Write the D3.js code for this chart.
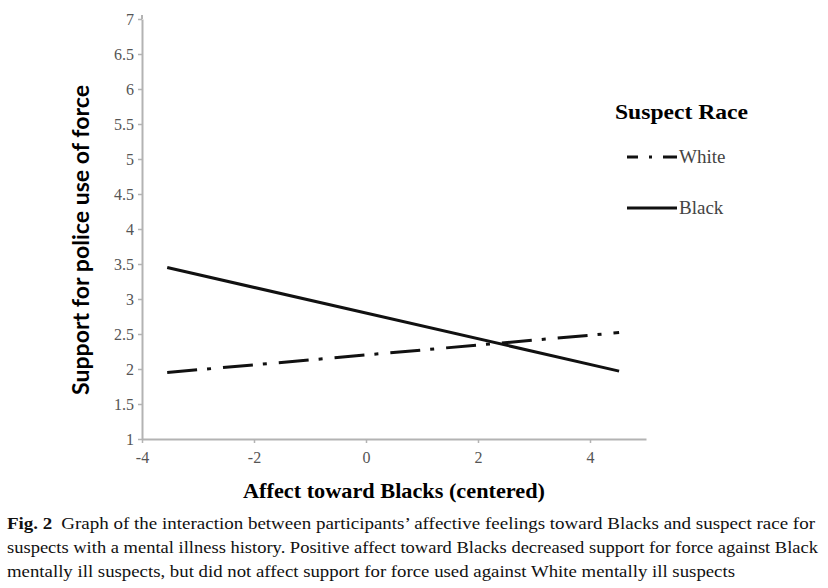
<!DOCTYPE html>
<html>
<head>
<meta charset="utf-8">
<script src="https://cdn.jsdelivr.net/npm/d3@7"></script>
<style>
  body { margin: 0; background: #fff; }
  svg { display: block; }
</style>
</head>
<body>
<div id="chart"></div>
<script>
/* DATA */
const xEnds = [-3.55, 4.52];           // affect toward Blacks (centered), -1 SD / +1 SD
const whiteValues = [1.95, 2.52];      // White suspect
const blackValues = [3.45, 1.97];      // Black suspect
const xTicks = [-4, -2, 0, 2, 4];
const yTicks = [1, 1.5, 2, 2.5, 3, 3.5, 4, 4.5, 5, 5.5, 6, 6.5, 7];
const seriesNames = ["White", "Black"];
const captionLines = [
  "Graph of the interaction between participants\u2019 affective feelings toward Blacks and suspect race for",
  "suspects with a mental illness history. Positive affect toward Blacks decreased support for force against Black",
  "mentally ill suspects, but did not affect support for force used against White mentally ill suspects"
];

/* CONSTANTS */
const width = 828, height = 588;
const margin = { top: 19, left: 142 };
const plotRight = 646, plotBottom = 439;
const serif = "'Liberation Serif', 'Times New Roman', serif";

const svg = d3.select("#chart").append("svg")
  .attr("width", width)
  .attr("height", height);

// scales
const xScale = d3.scaleLinear().domain([-4, 5]).range([margin.left, plotRight]);
const yScale = d3.scaleLinear().domain([1, 7]).range([plotBottom, margin.top]);

// axes (plain hyphen for negatives, like the original)
const axisColor = "#b3b3b3";
const xAxis = d3.axisBottom(xScale).tickValues(xTicks).tickSize(4).tickSizeOuter(0).tickPadding(6)
  .tickFormat(d => String(d));
const yAxis = d3.axisLeft(yScale).tickValues(yTicks).tickSize(4).tickSizeOuter(0).tickPadding(4)
  .tickFormat(d => String(d));

const xg = svg.append("g")
  .attr("transform", `translate(0,${plotBottom})`)
  .call(xAxis);
const yg = svg.append("g")
  .attr("transform", `translate(${margin.left},0)`)
  .call(yAxis);

[xg, yg].forEach(g => {
  g.attr("font-family", serif).attr("font-size", 16);
  g.select(".domain").attr("stroke", axisColor).attr("stroke-width", 2);
  g.selectAll(".tick line").attr("stroke", axisColor).attr("stroke-width", 1.5);
  g.selectAll(".tick text").attr("fill", "#555");
});
xg.selectAll(".tick text").attr("dy", "0.9em");
// short top cap of the y axis
svg.append("line")
  .attr("x1", margin.left).attr("x2", margin.left)
  .attr("y1", margin.top - 4).attr("y2", margin.top)
  .attr("stroke", axisColor).attr("stroke-width", 2);

// lines
const line = d3.line()
  .x(d => xScale(d[0]))
  .y(d => yScale(d[1]));

svg.append("path")
  .datum(xEnds.map((x, i) => [x, whiteValues[i]]))
  .attr("d", line)
  .attr("fill", "none")
  .attr("stroke", "#111")
  .attr("stroke-width", 3)
  .attr("stroke-dasharray", "30,10,4,12");

svg.append("path")
  .datum(xEnds.map((x, i) => [x, blackValues[i]]))
  .attr("d", line)
  .attr("fill", "none")
  .attr("stroke", "#111")
  .attr("stroke-width", 3);

// axis titles
svg.append("text")
  .attr("x", 394).attr("y", 498)
  .attr("text-anchor", "middle")
  .attr("font-family", serif)
  .attr("font-weight", "bold")
  .attr("font-size", 21)
  .attr("textLength", 302)
  .attr("lengthAdjust", "spacingAndGlyphs")
  .text("Affect toward Blacks (centered)");

svg.append("text")
  .attr("transform", "translate(89,240) rotate(-90)")
  .attr("text-anchor", "middle")
  .attr("font-family", "Lato, 'Open Sans', sans-serif")
  .attr("font-weight", "bold")
  .attr("font-size", 22)
  .attr("textLength", 310)
  .attr("lengthAdjust", "spacingAndGlyphs")
  .text("Support for police use of force");

// legend
const legend = svg.append("g");
legend.append("text")
  .attr("x", 615).attr("y", 119)
  .attr("font-family", serif)
  .attr("font-weight", "bold")
  .attr("font-size", 21)
  .attr("textLength", 133)
  .attr("lengthAdjust", "spacingAndGlyphs")
  .text("Suspect Race");

const legendRows = legend.selectAll("g.row")
  .data(seriesNames)
  .join("g")
  .attr("class", "row")
  .attr("transform", (d, i) => `translate(627,${157 + i * 51})`);

legendRows.append("line")
  .attr("x1", 0).attr("x2", 50)
  .attr("y1", 0).attr("y2", 0)
  .attr("stroke", "#111")
  .attr("stroke-width", 3)
  .attr("stroke-dasharray", d => d === "White" ? "11,11,3,11,14" : null);

legendRows.append("text")
  .attr("x", 52).attr("y", 6)
  .attr("fill", "#444")
  .attr("font-family", serif)
  .attr("font-size", 19)
  .text(d => d);

// caption
const caption = svg.append("g")
  .attr("font-family", serif)
  .attr("font-size", 17)
  .attr("fill", "#111");

const capWidths = [808, 811, 728];
captionLines.forEach((t, i) => {
  const tx = caption.append("text")
    .attr("x", 7)
    .attr("y", 529 + i * 24)
    .attr("textLength", capWidths[i])
    .attr("lengthAdjust", "spacingAndGlyphs");
  if (i === 0) {
    tx.append("tspan").attr("font-weight", "bold").text("Fig. 2");
    tx.append("tspan").attr("dx", 8).text(t);
  } else {
    tx.text(t);
  }
});
</script>
</body>
</html>
